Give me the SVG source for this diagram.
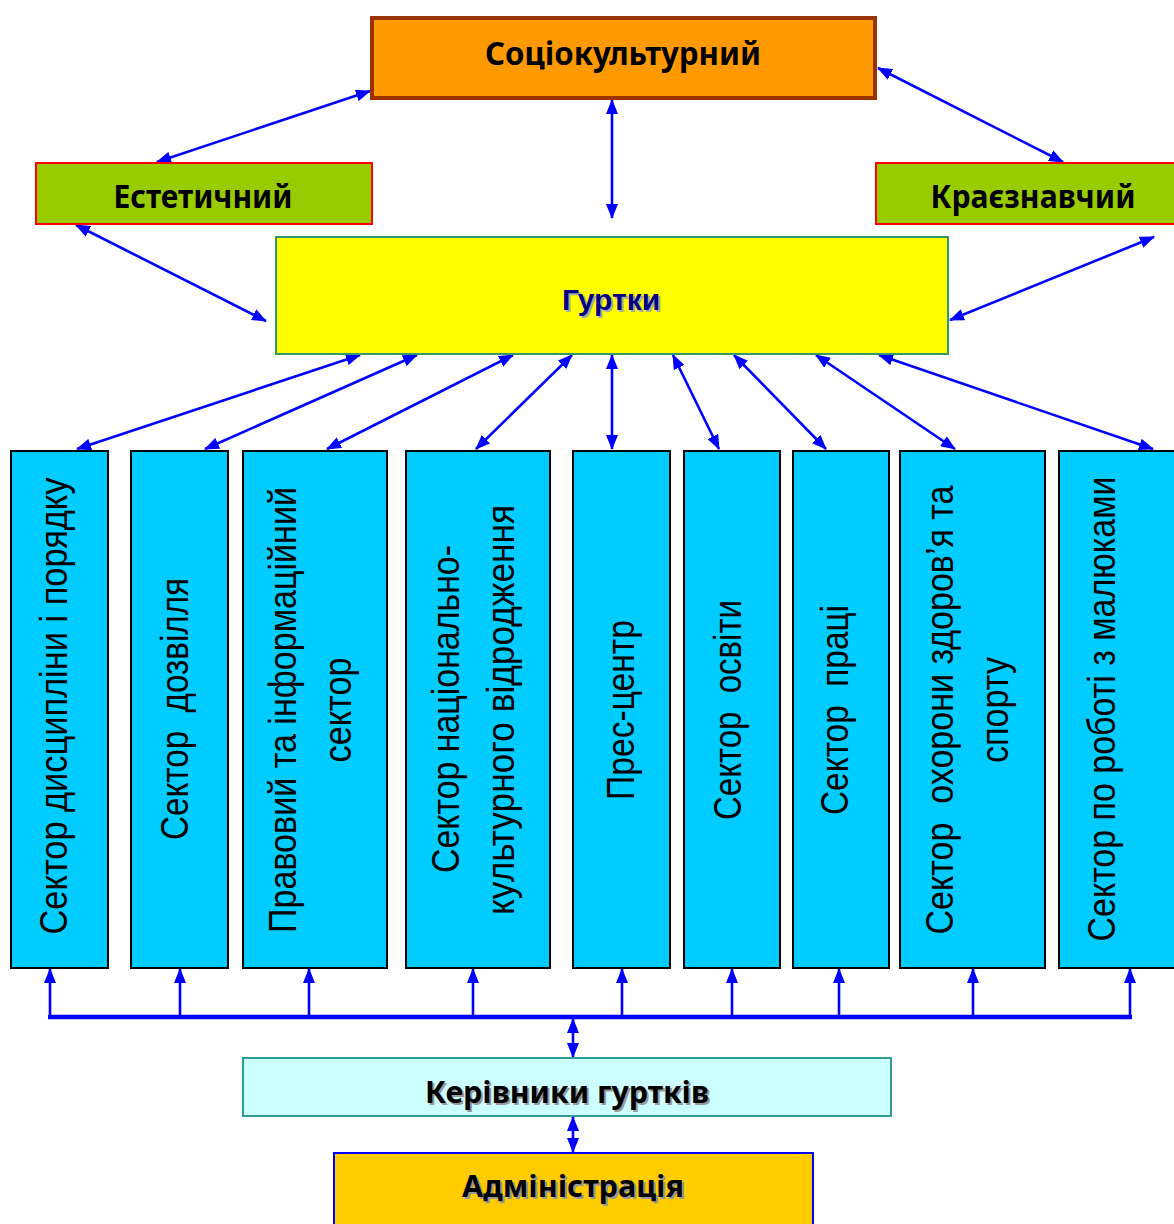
<svg xmlns="http://www.w3.org/2000/svg" width="1174" height="1224" viewBox="0 0 1174 1224">
<style>
.hd{font-family:"Noto Sans","Open Sans","DejaVu Sans",sans-serif;font-weight:bold;fill:#000;text-anchor:middle}
.sec{font-family:"Liberation Sans",Arial,sans-serif;font-size:38px;fill:#000;text-anchor:middle;white-space:pre}
.sbox{fill:#00CCFF;stroke:#000;stroke-width:2}
.ln{stroke:#0000FF;stroke-width:2.6;fill:none}
.bi{marker-start:url(#ah);marker-end:url(#ah)}
.up{marker-end:url(#ah)}
.sh{fill:#999999}
</style>
<defs>
<marker id="ah" viewBox="0 0 15 12" refX="14" refY="6" markerWidth="15" markerHeight="12" markerUnits="userSpaceOnUse" orient="auto-start-reverse">
<path d="M0,0L15,6L0,12z" fill="#0000FF"/>
</marker>
</defs>
<rect width="1174" height="1224" fill="#fff"/>

<g id="connectors">
<line class="ln bi" x1="370" y1="91" x2="157" y2="162"/>
<line class="ln bi" x1="612" y1="100" x2="612" y2="218"/>
<line class="ln bi" x1="878" y1="68" x2="1063" y2="162"/>
<line class="ln bi" x1="76" y1="225" x2="266" y2="321"/>
<line class="ln bi" x1="1154" y1="237" x2="950" y2="320"/>

<line class="ln bi" x1="360" y1="355" x2="77" y2="449"/>
<line class="ln bi" x1="417" y1="355" x2="205" y2="449"/>
<line class="ln bi" x1="513" y1="355" x2="327" y2="449"/>
<line class="ln bi" x1="572" y1="355" x2="476" y2="449"/>
<line class="ln bi" x1="612" y1="355" x2="612" y2="449"/>
<line class="ln bi" x1="673" y1="355" x2="719" y2="449"/>
<line class="ln bi" x1="734" y1="355" x2="826" y2="449"/>
<line class="ln bi" x1="816" y1="355" x2="955" y2="449"/>
<line class="ln bi" x1="879" y1="355" x2="1153" y2="449"/>

<line x1="48" y1="1017" x2="1132" y2="1017" stroke="#0000FF" stroke-width="4.5"/>
<line class="ln up" x1="50" y1="1017" x2="50" y2="969"/>
<line class="ln up" x1="180" y1="1017" x2="180" y2="969"/>
<line class="ln up" x1="309" y1="1017" x2="309" y2="969"/>
<line class="ln up" x1="473" y1="1017" x2="473" y2="969"/>
<line class="ln up" x1="622" y1="1017" x2="622" y2="969"/>
<line class="ln up" x1="732" y1="1017" x2="732" y2="969"/>
<line class="ln up" x1="839" y1="1017" x2="839" y2="969"/>
<line class="ln up" x1="973" y1="1017" x2="973" y2="969"/>
<line class="ln up" x1="1130" y1="1017" x2="1130" y2="969"/>

<line class="ln bi" x1="573" y1="1019" x2="573" y2="1057"/>
<line class="ln bi" x1="573" y1="1117" x2="573" y2="1152"/>
</g>

<g id="sociocultural">
<rect x="372" y="18" width="503" height="80" fill="#FF9900" stroke="#993300" stroke-width="4"/>
<text class="hd" x="623" y="65" font-size="32" textLength="276" lengthAdjust="spacingAndGlyphs">Соціокультурний</text>
</g>

<g id="aesthetic">
<rect x="36" y="163" width="336" height="61" fill="#99CC00" stroke="#FF0000" stroke-width="2"/>
<text class="hd" x="203" y="208" font-size="32" textLength="179" lengthAdjust="spacingAndGlyphs">Естетичний</text>
</g>

<g id="local-lore">
<rect x="876" y="163" width="310" height="61" fill="#99CC00" stroke="#FF0000" stroke-width="2"/>
<text class="hd" x="1033" y="208" font-size="32" textLength="205" lengthAdjust="spacingAndGlyphs">Краєзнавчий</text>
</g>

<g id="clubs">
<rect x="276" y="237" width="672" height="117" fill="#FFFF00" stroke="#339966" stroke-width="2"/>
<text x="613" y="312" font-family="'Liberation Sans',Arial,sans-serif" font-weight="bold" font-size="30" text-anchor="middle" fill="#AAAAAA">Гуртки</text>
<text x="611" y="310" font-family="'Liberation Sans',Arial,sans-serif" font-weight="bold" font-size="30" text-anchor="middle" fill="#000080">Гуртки</text>
</g>

<g id="sector-1">
<rect class="sbox" x="11" y="451" width="97" height="517"/>
<text class="sec" transform="translate(67,706) rotate(-90)" textLength="457" lengthAdjust="spacingAndGlyphs">Сектор дисципліни і порядку</text>
</g>
<g id="sector-2">
<rect class="sbox" x="131" y="451" width="97" height="517"/>
<text class="sec" transform="translate(188,709) rotate(-90)" textLength="262" lengthAdjust="spacingAndGlyphs">Сектор  дозвілля</text>
</g>
<g id="sector-3">
<rect class="sbox" x="243" y="451" width="144" height="517"/>
<text class="sec" transform="translate(296,710) rotate(-90)" textLength="446" lengthAdjust="spacingAndGlyphs">Правовий та інформаційний</text>
<text class="sec" transform="translate(351,710) rotate(-90)" textLength="105" lengthAdjust="spacingAndGlyphs">сектор</text>
</g>
<g id="sector-4">
<rect class="sbox" x="406" y="451" width="144" height="517"/>
<text class="sec" transform="translate(459,709) rotate(-90)" textLength="328" lengthAdjust="spacingAndGlyphs">Сектор національно-</text>
<text class="sec" transform="translate(514,710) rotate(-90)" textLength="410" lengthAdjust="spacingAndGlyphs">культурного відродження</text>
</g>
<g id="sector-5">
<rect class="sbox" x="573" y="451" width="97" height="517"/>
<text class="sec" transform="translate(634,710) rotate(-90)" textLength="180" lengthAdjust="spacingAndGlyphs">Прес-центр</text>
</g>
<g id="sector-6">
<rect class="sbox" x="684" y="451" width="96" height="517"/>
<text class="sec" transform="translate(741,710) rotate(-90)" textLength="220" lengthAdjust="spacingAndGlyphs">Сектор  освіти</text>
</g>
<g id="sector-7">
<rect class="sbox" x="793" y="451" width="96" height="517"/>
<text class="sec" transform="translate(848,710) rotate(-90)" textLength="210" lengthAdjust="spacingAndGlyphs">Сектор  праці</text>
</g>
<g id="sector-8">
<rect class="sbox" x="900" y="451" width="145" height="517"/>
<text class="sec" transform="translate(953,710) rotate(-90)" textLength="449" lengthAdjust="spacingAndGlyphs">Сектор  охорони здоров’я та</text>
<text class="sec" transform="translate(1008,710) rotate(-90)" textLength="106" lengthAdjust="spacingAndGlyphs">спорту</text>
</g>
<g id="sector-9">
<rect class="sbox" x="1059" y="451" width="130" height="517"/>
<text class="sec" transform="translate(1115,709) rotate(-90)" textLength="465" lengthAdjust="spacingAndGlyphs">Сектор по роботі з малюками</text>
</g>

<g id="club-leaders">
<rect x="243" y="1058" width="648" height="58" fill="#CCFFFF" stroke="#339999" stroke-width="2"/>
<text class="hd sh" x="569" y="1105" font-size="30" textLength="284" lengthAdjust="spacingAndGlyphs" style="fill:#999">Керівники гуртків</text>
<text class="hd" x="567" y="1103" font-size="30" textLength="284" lengthAdjust="spacingAndGlyphs">Керівники гуртків</text>
</g>

<g id="administration">
<rect x="334" y="1153" width="479" height="80" fill="#FFCC00" stroke="#0000FF" stroke-width="2"/>
<text class="hd" x="575" y="1199" font-size="30" textLength="222" lengthAdjust="spacingAndGlyphs" style="fill:#999">Адміністрація</text>
<text class="hd" x="573" y="1197" font-size="30" textLength="222" lengthAdjust="spacingAndGlyphs">Адміністрація</text>
</g>
</svg>
